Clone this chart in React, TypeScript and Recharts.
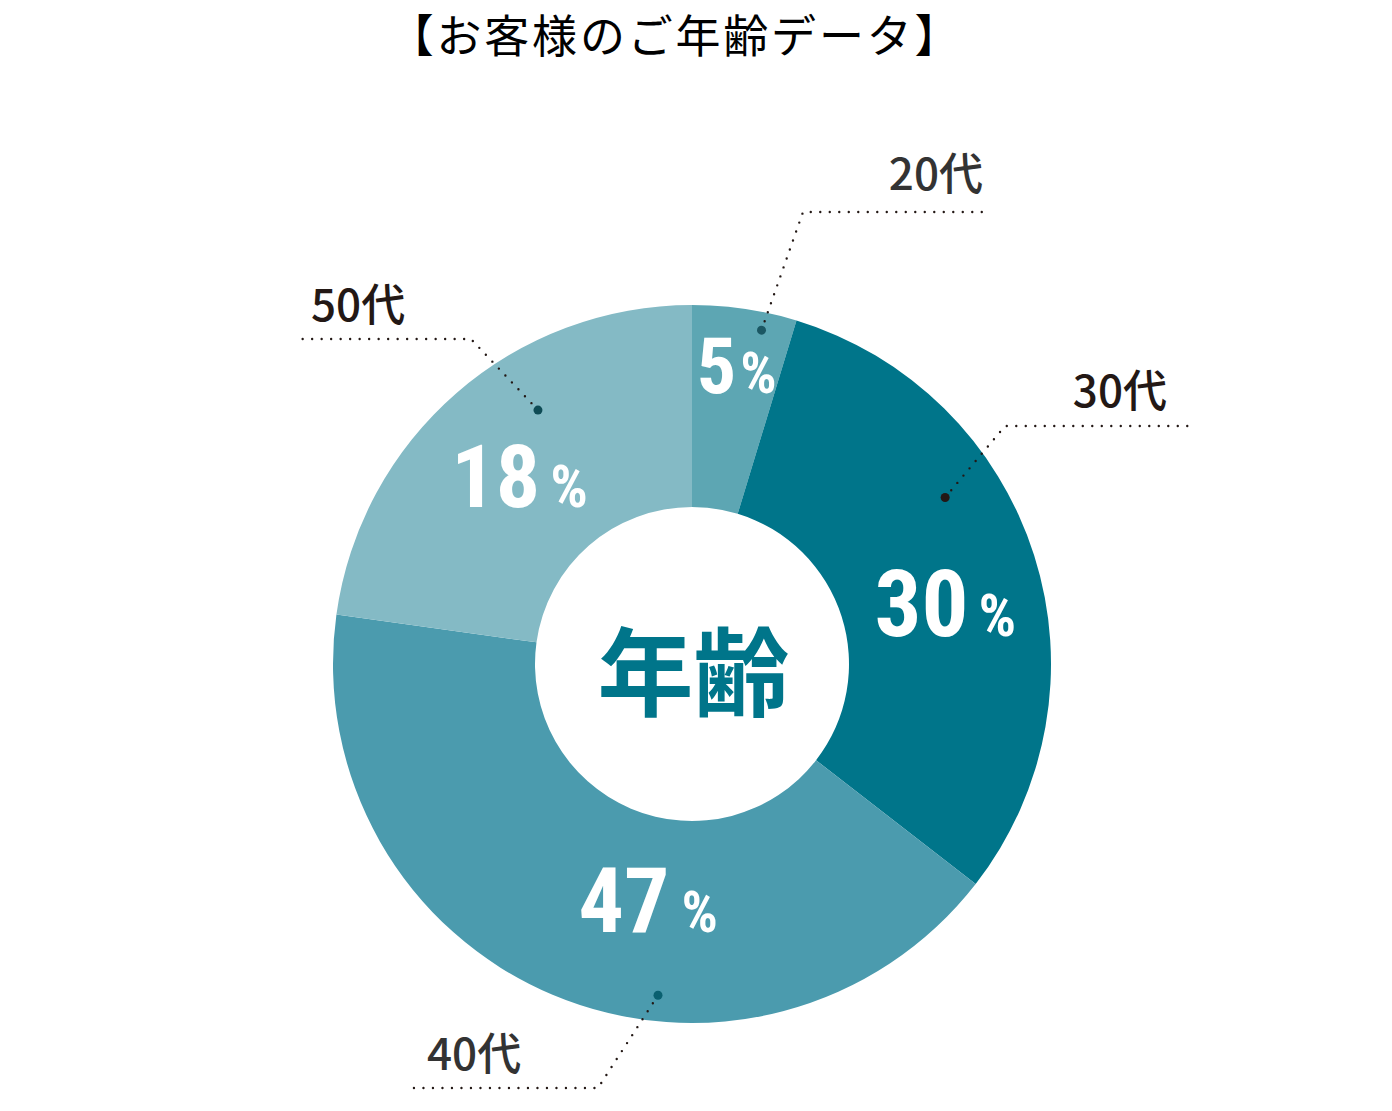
import React from 'react';
import { PieChart, Pie, Cell, Label } from 'recharts';

// ---- data ----
const categories = ['20代', '30代', '40代', '50代'];
const percentLabels = ['5', '30', '47', '18'];
// slice sizes as drawn in the reference (angles)
const sliceValues = [4.7, 30.8, 41.7, 22.8];
const title = '【お客様のご年齢データ】';
const centerText = '年齢';

// ---- styles / layout ----
const colors = ['#5da6b3', '#00758a', '#4b9bae', '#84bac5'];
const W = 1392;
const H = 1111;
const CX = 692;
const CY = 664;

const pctLayout = [
  { dAngle: 0.9, r: 275, num: 78, pct: 57, gap: 4 },
  { dAngle: 11.3, r: 255, num: 93, pct: 59, gap: 10 },
  { dAngle: -13.6, r: 272, num: 90, pct: 57, gap: 12 },
  { dAngle: -6.7, r: 233, num: 88, pct: 59, gap: 10 },
];

const calloutLayout = [
  { dotAngle: 3.3, dotR: 341, elbow: [111, -452], end: 296, text: [291, -474], anchor: 'end', textColor: '#333333', dotColor: '#1b5763' },
  { dotAngle: -15.7, dotR: 303, elbow: [313, -238], end: 498, text: [475, -257], anchor: 'end', textColor: '#231815', dotColor: '#231815' },
  { dotAngle: -17, dotR: 333, elbow: [-94, 424], end: -285, text: [-265, 406], anchor: 'start', textColor: '#333333', dotColor: '#0a6070' },
  { dotAngle: 9.8, dotR: 297, elbow: [-221, -325], end: -397, text: [-381, -343], anchor: 'start', textColor: '#231815', dotColor: '#0e4b55' },
];

const numFont = '"Liberation Sans Narrow", "Roboto Condensed", "DejaVu Sans Condensed", Roboto, sans-serif';
const cjkFont = '"Noto Sans CJK JP", "Noto Sans", sans-serif';

const data = categories.map((name, i) => ({ name, value: sliceValues[i], pct: percentLabels[i] }));

const RAD = Math.PI / 180;
const polar = (cx: number, cy: number, thetaCw: number, r: number) => ({
  x: cx + r * Math.sin(thetaCw * RAD),
  y: cy - r * Math.cos(thetaCw * RAD),
});

const renderLabel = (props: any) => {
  const { cx, cy, midAngle, index } = props;
  const thetaMid = 90 - midAngle;
  const pl = pctLayout[index];
  const cl = calloutLayout[index];
  const p = polar(cx, cy, thetaMid + pl.dAngle, pl.r);
  const d = polar(cx, cy, thetaMid + cl.dotAngle, cl.dotR);
  const ex = cx + cl.elbow[0];
  const ey = cy + cl.elbow[1];
  const endX = cx + cl.end;
  return (
    <g key={`lbl-${index}`}>
      <text
        x={p.x}
        y={p.y}
        textAnchor="middle"
        fill="#ffffff"
        fontFamily={numFont}
        fontWeight={700}
      >
        <tspan fontSize={pl.num}>{data[index].pct}</tspan>
        <tspan fontSize={pl.pct} dx={pl.gap}>%</tspan>
      </text>
      <polyline
        points={`${d.x},${d.y} ${ex},${ey} ${endX},${ey}`}
        fill="none"
        stroke="#231815"
        strokeWidth={2.4}
        strokeDasharray="0 9.5"
        strokeLinecap="round"
      />
      <circle cx={d.x} cy={d.y} r={4.5} fill={cl.dotColor} />
      <text
        x={cx + cl.text[0]}
        y={cy + cl.text[1]}
        textAnchor={cl.anchor}
        fill={cl.textColor}
        fontFamily={cjkFont}
        fontWeight={500}
        fontSize={44}
      >
        {data[index].name}
      </text>
    </g>
  );
};

const renderCenter = (props: any) => {
  const vb = props.viewBox || {};
  const cx = vb.cx ?? CX;
  const cy = vb.cy ?? CY;
  return (
    <text
      x={cx + 1.5}
      y={cy + 44}
      textAnchor="middle"
      fill="#00758a"
      fontFamily={cjkFont}
      fontWeight={700}
      fontSize={96}
    >
      {centerText}
    </text>
  );
};

export default function App() {
  return (
    <div style={{ position: 'absolute', left: 0, top: 0, width: W, height: H, background: '#ffffff' }}>
      <PieChart width={W} height={H} margin={{ top: 0, right: 0, bottom: 0, left: 0 }}>
        <Pie
          data={data}
          dataKey="value"
          nameKey="name"
          cx={CX}
          cy={CY}
          startAngle={90}
          endAngle={-270}
          innerRadius={157}
          outerRadius={359}
          stroke="none"
          isAnimationActive={false}
          labelLine={false}
          label={renderLabel}
        >
          {data.map((d, i) => (
            <Cell key={d.name} fill={colors[i]} />
          ))}
          <Label position="center" content={renderCenter} />
        </Pie>
      </PieChart>
      <svg
        width={W}
        height={90}
        style={{ position: 'absolute', left: 0, top: 0, pointerEvents: 'none' }}
      >
        <text x={675.5} y={52.5} textAnchor="middle" fill="#000000" fontFamily={cjkFont} fontWeight={400} fontSize={45} letterSpacing={2.8}>
          {title}
        </text>
      </svg>
    </div>
  );
}
